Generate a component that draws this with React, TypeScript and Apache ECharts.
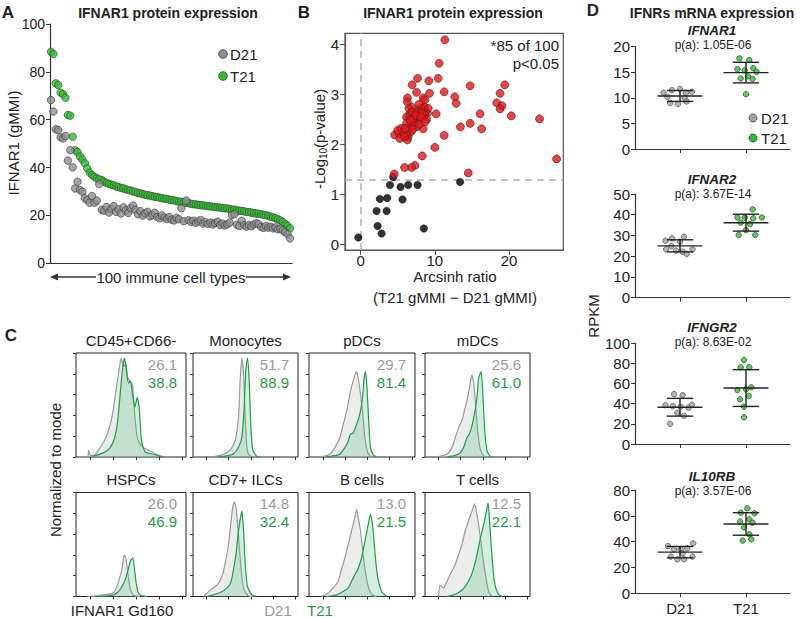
import React, { useEffect, useRef } from "react";
import * as echarts from "echarts";

const FONT = "'Liberation Sans', Arial, Helvetica, sans-serif";
const INK = "#222";
const GRAY_DOT = "#8e8e8e";
const GREEN_DOT = "#2ec12e";
const RED_DOT = "#ee1111";
const HIST_GRAY = "#9a9a9a";
const HIST_GREEN = "#1f9e45";

// ---------- Panel A: IFNAR1 protein expression, 100 immune cell types ----------
const aTitle = "IFNAR1 protein expression";
const a_T21 = [
  88.4, 87.5, 75.2, 74.5, 71.3, 70.7, 69.2, 62.0, 61.7, 52.9,
  47.2, 46.5, 44.6, 43.4, 41.8, 39.7, 37.9, 36.9, 36.2, 35.5,
  35.1, 34.8, 34.1, 33.6, 33.2, 32.8, 32.6, 32.1, 31.9, 31.5,
  31.3, 30.9, 30.6, 30.4, 30.0, 29.8, 29.4, 29.2, 28.9, 28.6,
  28.4, 28.3, 28.0, 27.8, 27.7, 27.4, 27.2, 27.0, 26.9, 26.6,
  26.4, 26.3, 26.0, 25.8, 25.7, 25.4, 25.2, 25.1, 24.9, 24.7,
  24.6, 24.4, 24.3, 24.2, 24.0, 23.9, 23.8, 23.6, 23.5, 23.4,
  23.3, 23.1, 23.0, 22.9, 22.7, 22.5, 22.4, 22.2, 22.0, 21.9,
  21.7, 21.5, 21.4, 21.2, 21.0, 20.8, 20.7, 20.5, 20.3, 20.1,
  19.8, 19.5, 19.2, 18.8, 18.4, 17.9, 17.2, 16.5, 15.6, 14.6,
];
const a_D21 = [
  68.2, 63.4, 56.0, 55.7, 52.7, 52.2, 53.2, 42.9, 47.3, 40.1,
  31.3, 34.1, 30.6, 29.9, 27.2, 26.5, 25.3, 28.1, 25.3, 26.2,
  33.1, 22.3, 22.0, 23.5, 21.2, 22.8, 23.9, 21.5, 22.6, 20.8,
  23.4, 22.1, 21.0, 23.0, 24.1, 22.3, 20.5, 21.8, 19.9, 20.9,
  21.5, 19.6, 20.2, 21.1, 19.3, 18.8, 20.0, 19.1, 18.5, 19.4,
  18.2, 17.9, 19.0, 18.4, 23.0, 17.6, 26.2, 18.0, 17.3, 17.8,
  16.9, 17.5, 18.1, 16.6, 17.2, 16.4, 17.0, 16.2, 16.8, 17.4,
  16.0, 16.6, 15.8, 16.3, 17.0, 20.2, 20.5, 16.1, 15.6, 17.8,
  15.9, 15.3, 16.0, 15.5, 16.2, 16.7, 16.4, 15.2, 14.8, 15.6,
  14.9, 15.3, 14.6, 15.0, 14.2, 14.5, 13.8, 13.0, 12.2, 10.4,
];

// ---------- Panel B: volcano-like plot ----------
const bXTicks = [0, 10, 20];
const bYTicks = [0, 1, 2, 3, 4];
const bSigThreshold = 1.301; // -log10(0.05)
const b_significant = [
  [11.35, 4.09], [10.58, 3.62], [10.45, 3.32], [7.67, 3.32], [9.19, 3.27], [6.95, 3.19],
  [11.26, 3.05], [7.53, 3.04], [9.28, 3.02], [6.32, 2.93], [8.43, 2.93], [8.65, 2.89],
  [12.69, 2.95], [12.87, 2.82], [14.75, 3.17], [19.42, 3.19], [18.79, 3.02], [18.34, 2.83],
  [19.06, 2.77], [18.79, 2.71], [20.3, 2.57], [16.1, 2.61], [24.1, 2.51], [26.4, 1.71],
  [16.3, 2.31], [14.75, 2.42], [13.45, 2.35], [10.18, 2.61], [11.26, 2.18], [10.0, 1.94],
  [8.3, 1.77], [7.31, 1.58], [6.86, 1.54], [5.92, 1.54], [4.53, 1.41], [14.5, 1.43],
  [8.43, 2.31],
  [4.6, 2.19], [5.16, 2.22], [5.43, 2.32], [5.3, 2.12], [6.4, 2.15], [6.3, 2.09],
  [6.6, 2.32], [6.86, 2.42], [6.5, 2.52], [7.13, 2.62], [7.53, 2.55], [7.98, 2.62],
  [7.98, 2.49], [8.43, 2.52], [8.74, 2.69], [8.56, 2.75], [9.0, 2.62], [7.31, 2.45],
  [6.64, 2.62], [6.86, 2.75], [6.19, 2.55], [7.76, 2.69], [8.2, 2.72], [6.19, 2.42],
  [6.77, 2.25], [7.53, 2.35], [5.7, 2.25], [6.19, 2.19], [7.08, 2.52], [9.1, 2.72],
  [8.65, 2.59], [6.5, 2.72], [5.9, 2.15], [7.2, 2.38], [7.9, 2.4], [8.9, 2.5],
  [6.0, 2.32], [5.0, 2.28], [6.95, 2.65], [7.6, 2.62], [8.3, 2.62], [7.4, 2.58],
  [6.7, 2.48], [8.1, 2.55], [7.0, 2.3], [8.7, 2.45], [6.3, 2.85], [7.85, 2.8],
];
const b_notSignificant = [
  [-0.31, 0.14], [2.15, 0.67], [2.29, 0.37], [2.83, 0.22], [2.6, 0.91], [3.59, 0.93],
  [3.5, 0.67], [3.95, 1.19], [4.39, 1.35], [5.38, 1.15], [5.65, 0.9], [6.41, 1.19],
  [7.67, 1.19], [8.52, 0.32], [13.4, 1.25],
];

// ---------- Panel C: histograms (x: IFNAR1 Gd160 display %, y: % of mode) ----------
const histTitles = ["CD45+CD66-", "Monocytes", "pDCs", "mDCs", "HSPCs", "CD7+ ILCs", "B cells", "T cells"];
const histD21Values = ["26.1", "51.7", "29.7", "25.6", "26.0", "14.8", "13.0", "12.5"];
const histT21Values = ["38.8", "88.9", "81.4", "61.0", "46.9", "32.4", "21.5", "22.1"];
const cd45_D21 = [[11, 0], [11.5, 6.5], [13, 1.6], [16, 1.6], [22, 9], [28.1, 21], [32.6, 38], [35.6, 58], [38.7, 81], [41.1, 95], [43.2, 87], [45.3, 90], [47.1, 76], [49.2, 73], [51.4, 69], [53.5, 39], [55.9, 18], [59.8, 10], [65.9, 6.5], [73.4, 2.6], [79.5, 0]];
const cd45_T21 = [[14.5, 0.6], [25, 4], [31, 9], [35, 18], [37.8, 34], [40.2, 61], [42.3, 85], [44.1, 95], [45.9, 82], [47.7, 71], [49.5, 73], [51.4, 60], [53.5, 48], [55.6, 57], [57.4, 48], [59.5, 16], [62.8, 5], [70.4, 2.6], [76.4, 0.6], [79.5, 0]];
const mono_D21 = [[16.5, 0], [26, 1.6], [35.4, 6.5], [40.2, 16], [43.4, 39], [44.9, 74], [46.5, 95], [48.1, 81], [49.7, 39], [51.3, 10], [53.5, 1.6], [57.6, 0]];
const mono_T21 = [[22.8, 0], [32.3, 1], [38.6, 3.2], [43.4, 9.7], [46.5, 19], [48.7, 48], [50.3, 84], [51.9, 95], [53.5, 74], [55.1, 29], [57, 6.5], [60.8, 0.6], [63.9, 0]];
const pdc_D21 = [[11.7, 0], [19.6, 2.6], [24.3, 9], [29, 18.5], [32.2, 31], [34.7, 41], [36.9, 51], [39.1, 63], [41.6, 73], [44.8, 82], [46.4, 76], [47.9, 66], [50.5, 44], [52.7, 18.5], [54.9, 6], [57.4, 1], [60.6, 0]];
const pdc_T21 = [[14.8, 0], [22.7, 1], [29, 2.6], [33.8, 9], [36.9, 15], [39.1, 22], [41.6, 23], [44.8, 31], [47.9, 41], [50.5, 57], [51.7, 73], [53.3, 82], [54.9, 63], [56.5, 31], [58, 9], [60.6, 2], [63.7, 0]];
const mdc_D21 = [[11.2, 0], [20.8, 2.6], [25.6, 9], [28.8, 18.5], [31.9, 28], [35.1, 35], [37.4, 44], [39.9, 54], [42.2, 66], [44.7, 79], [46.3, 73], [47.9, 54], [50.2, 25], [52.7, 7.3], [55.9, 1], [59.1, 0]];
const mdc_T21 = [[20.8, 0], [28.8, 1.6], [33.5, 4], [36.7, 9], [39.9, 18.5], [42.2, 22], [44.7, 30], [47, 41], [49.5, 57], [51.1, 76], [53.4, 82], [54.95, 63], [56.9, 25], [59.1, 6], [62.3, 0.3], [65.5, 0]];
const hspc_D21 = [[10, 0], [19, 0.6], [25.1, 1.6], [31.1, 2.6], [34.1, 3.8], [37.2, 9.6], [39.6, 17.6], [41.7, 25.6], [43.8, 40], [45.3, 37], [46.8, 25.6], [48.6, 11], [50.8, 3.2], [53.8, 0.6], [58.3, 0]];
const hspc_T21 = [[19, 0], [28.1, 0.6], [34.1, 1.6], [38.7, 4.8], [41.7, 9.6], [44.7, 16], [47.7, 27], [49.8, 35], [51.7, 37], [52.9, 29], [54.7, 13], [56.8, 3.2], [59.8, 0.6], [64.4, 0]];
const ilc_D21 = [[10.1, 0], [13.3, 3.2], [16.5, 6.4], [22.8, 11], [27.5, 19], [30.7, 32], [33.9, 51], [36.1, 71], [38, 87], [39.2, 91], [40.8, 87], [42.4, 71], [44.3, 45], [46.5, 19], [48.7, 6.4], [52.8, 0.6], [57.6, 0]];
const ilc_T21 = [[13.3, 0], [19.6, 1.6], [25.9, 3.8], [32.3, 8], [36.1, 14], [38.6, 26], [41.1, 42], [43.4, 64], [44.9, 74], [46.5, 82], [48.1, 64], [49.7, 32], [51.9, 9.6], [56, 1.6], [60.8, 0]];
const bcell_D21 = [[11.7, 0], [18, 3.2], [22.7, 8], [27.4, 14.5], [30.6, 26], [33.8, 37], [36.9, 50], [40.1, 63], [43.2, 76], [44.8, 84], [46.4, 76], [48.6, 63], [51.1, 40], [53.6, 21], [56.8, 6.5], [60.6, 1], [63.7, 0]];
const bcell_T21 = [[16.4, 0], [25.9, 1.6], [32.2, 4.8], [36.9, 8], [40.1, 14.5], [43.2, 21], [46.4, 27], [49.5, 37], [52.7, 53], [55.8, 69], [58, 79], [59.9, 69], [62.1, 44], [64.4, 21], [68.5, 4.8], [73.2, 0]];
const tcell_D21 = [[12.8, 0], [14.4, 11], [17.6, 8], [20.8, 14.5], [24, 21], [28.8, 31], [31.9, 40], [35.1, 50], [38.3, 63], [41.5, 73], [44.7, 82], [47.3, 89], [48.9, 82], [51.1, 69], [54.3, 44], [57.5, 21], [60.7, 4.8], [63.9, 0]];
const tcell_T21 = [[20.8, 0], [27.2, 1.6], [33.5, 4.8], [38.3, 9.7], [43.1, 18], [46.3, 27], [49.5, 40], [52.7, 56], [55.9, 69], [58.5, 82], [60.1, 90], [61.7, 69], [63.9, 37], [66.1, 14.5], [69.3, 3.2], [73.5, 0]];
const histD21Curves = [cd45_D21, mono_D21, pdc_D21, mdc_D21, hspc_D21, ilc_D21, bcell_D21, tcell_D21];
const histT21Curves = [cd45_T21, mono_T21, pdc_T21, mdc_T21, hspc_T21, ilc_T21, bcell_T21, tcell_T21];
const histXTicks = [13, 34, 55, 76, 97];

// ---------- Panel D: mRNA dot plots ----------
const dGroups = ["D21", "T21"];
const dGenes = ["IFNAR1", "IFNAR2", "IFNGR2", "IL10RB"];
const dPValues = ["p(a): 1.05E-06", "p(a): 3.67E-14", "p(a): 8.63E-02", "p(a): 3.57E-06"];
const dYMax = [20, 50, 100, 80];
const dYInterval = [5, 10, 20, 20];
const ifnar1_D21 = [11.0, 11.5, 11.7, 11.0, 11.2, 10.2, 10.0, 9.0, 8.8, 9.3];
const ifnar1_T21 = [17.7, 17.4, 15.6, 15.4, 15.8, 15.1, 13.8, 13.7, 14.2, 10.7];
const ifnar2_D21 = [28.6, 29.4, 27.5, 27.0, 24.9, 23.3, 22.7, 22.2, 23.3, 21.1];
const ifnar2_T21 = [42.6, 38.7, 38.7, 38.3, 38.7, 36.2, 35.5, 32.6, 30.2, 30.2];
const ifngr2_D21 = [49.5, 48.5, 38.5, 37.5, 37.0, 36.0, 39.0, 31.0, 28.0, 20.0];
const ifngr2_T21 = [83.4, 76.2, 76.2, 56.3, 54.3, 53.6, 47.7, 44.4, 37.1, 26.5];
const il10rb_D21 = [36.6, 38.7, 34.1, 34.1, 34.8, 28.4, 26.3, 26.3, 31.0, 28.4];
const il10rb_T21 = [65.8, 62.4, 61.9, 55.5, 57.3, 54.7, 51.1, 45.7, 40.8, 41.8];
const dD21 = [ifnar1_D21, ifnar2_D21, ifngr2_D21, il10rb_D21];
const dT21 = [ifnar1_T21, ifnar2_T21, ifngr2_T21, il10rb_T21];
// horizontal jitter of the dots (layout only)
const jitterD21 = [
  [-0.25, -0.12, 0, 0.09, 0.18, -0.19, 0.07, -0.15, -0.03, 0.1],
  [-0.12, 0.06, -0.22, 0.0, -0.13, -0.21, -0.06, 0.04, 0.19, 0.1],
  [-0.09, 0.04, -0.22, -0.11, 0.01, 0.13, 0.18, -0.04, 0.06, -0.15],
  [-0.18, 0.2, -0.09, 0.01, 0.11, -0.14, -0.04, 0.06, 0.04, 0.19],
];
const jitterT21 = [
  [-0.1, 0.05, -0.13, -0.02, 0.11, 0.16, -0.08, 0.1, 0.03, 0],
  [0.1, -0.13, -0.02, 0.11, 0.24, -0.08, 0.06, 0, -0.11, 0.14],
  [-0.03, 0.05, -0.08, 0.08, 0, -0.13, 0.04, -0.09, -0.03, -0.03],
  [0.02, -0.08, 0.13, -0.09, 0.05, 0.1, -0.03, 0.05, -0.05, 0.08],
];

// ---------- layout ----------
const histLefts = [76, 193, 309, 425];
const histWidths = [110, 105, 106, 105];
const histTops = [353, 492.5];
const histHeight = 104;
const dTops = [46.7, 194, 343.3, 490];
const dHeights = [102.3, 103.7, 100.7, 103.3];

function meanSd(v: number[]) {
  const m = v.reduce((a, b) => a + b, 0) / v.length;
  const s = Math.sqrt(v.reduce((a, b) => a + (b - m) * (b - m), 0) / (v.length - 1));
  return [m, s];
}

function txt(x: number, y: number, text: string, extra: any = {}, styleExtra: any = {}) {
  return {
    type: "text",
    x,
    y,
    silent: true,
    ...extra,
    style: {
      text,
      fontFamily: FONT,
      fontSize: 15,
      fill: INK,
      textAlign: "center",
      textVerticalAlign: "middle",
      ...styleExtra,
    },
  };
}

function buildOption() {
  const grids: any[] = [];
  const xAxes: any[] = [];
  const yAxes: any[] = [];
  const series: any[] = [];
  const graphics: any[] = [];
  const axisLbl = { color: INK, fontSize: 14, fontFamily: FONT };

  // ---- Panel A ----
  grids.push({ left: 50, top: 24, width: 242, height: 239.3, outerBoundsMode: "none", containLabel: false });
  xAxes.push({
    gridIndex: 0, type: "value", min: 0.59, max: 100.83,
    axisLine: { show: true, onZero: false, lineStyle: { color: "#333", width: 1.2 } },
    axisTick: { show: false }, axisLabel: { show: false }, splitLine: { show: false },
  });
  yAxes.push({
    gridIndex: 0, type: "value", min: 0, max: 100, interval: 20,
    axisLine: { show: true, onZero: false, lineStyle: { color: "#333", width: 1.2 } },
    axisTick: { show: true, length: 4, lineStyle: { color: "#333" } },
    axisLabel: { ...axisLbl, margin: 5 }, splitLine: { show: false },
  });
  series.push({
    type: "scatter", xAxisIndex: 0, yAxisIndex: 0, symbolSize: 7.5, z: 3,
    itemStyle: { color: GREEN_DOT, borderColor: "#3a3a3a", borderWidth: 0.8 },
    data: a_T21.map((v, i) => [i + 1, v]),
  });
  series.push({
    type: "scatter", xAxisIndex: 0, yAxisIndex: 0, symbolSize: 7.5, z: 4,
    itemStyle: { color: GRAY_DOT, borderColor: "#3a3a3a", borderWidth: 0.8 },
    data: a_D21.map((v, i) => [i + 1, v]),
  });

  // ---- Panel B ----
  grids.push({ left: 345, top: 33.3, width: 218.3, height: 216.7, show: true, borderColor: "#555", borderWidth: 1.2, backgroundColor: "transparent", outerBoundsMode: "none", containLabel: false });
  xAxes.push({
    gridIndex: 1, type: "value", min: -2.1, max: 27.3,
    axisLine: { show: true, onZero: false, lineStyle: { color: "#555", width: 1.2 } },
    axisTick: { show: true, length: 5, customValues: bXTicks, lineStyle: { color: "#555" } },
    axisLabel: { ...axisLbl, fontSize: 15, margin: 3, customValues: bXTicks },
    splitLine: { show: false },
  });
  yAxes.push({
    gridIndex: 1, type: "value", min: -0.11, max: 4.22,
    axisLine: { show: true, onZero: false, lineStyle: { color: "#555", width: 1.2 } },
    axisTick: { show: true, length: 5, customValues: bYTicks, lineStyle: { color: "#555" } },
    axisLabel: { ...axisLbl, fontSize: 15, margin: 6, customValues: bYTicks },
    splitLine: { show: false },
  });
  series.push({
    type: "scatter", xAxisIndex: 1, yAxisIndex: 1, symbolSize: 7.5, z: 3,
    itemStyle: { color: "#000", borderColor: "#000", borderWidth: 0.5 },
    data: b_notSignificant,
    markLine: {
      silent: true, symbol: "none", label: { show: false }, z: 2,
      lineStyle: { type: [7, 5], color: "#b0b0b0", width: 1.5 },
      data: [{ xAxis: 0 }, { yAxis: bSigThreshold }],
    },
  });
  series.push({
    type: "scatter", xAxisIndex: 1, yAxisIndex: 1, symbolSize: 8, z: 4,
    itemStyle: { color: RED_DOT, borderColor: "#333", borderWidth: 0.8 },
    data: b_significant,
  });

  // ---- Panel C ----
  for (let k = 0; k < 8; k++) {
    const row = k < 4 ? 0 : 1;
    const col = k % 4;
    const gi = grids.length;
    grids.push({
      left: histLefts[col], top: histTops[row], width: histWidths[col], height: histHeight,
      show: true, borderColor: "#222", borderWidth: 1, backgroundColor: "transparent",
      outerBoundsMode: "none", containLabel: false,
    });
    xAxes.push({
      gridIndex: gi, type: "value", min: 0, max: 100,
      axisLine: { show: false, onZero: false },
      axisTick: { show: true, length: 3, customValues: histXTicks, lineStyle: { color: "#333" } },
      axisLabel: { show: false }, splitLine: { show: false },
    });
    yAxes.push({
      gridIndex: gi, type: "value", min: 0, max: 100, interval: 20,
      axisLine: { show: false, onZero: false },
      axisTick: { show: true, length: 3, lineStyle: { color: "#333" } },
      axisLabel: { show: false }, splitLine: { show: false },
    });
    series.push({
      type: "line", xAxisIndex: gi, yAxisIndex: gi, data: histD21Curves[k], smooth: 0.2,
      showSymbol: false, symbol: "none", z: 2,
      lineStyle: { color: HIST_GRAY, width: 1.2 },
      areaStyle: { color: "rgba(190,190,190,0.42)" },
    });
    series.push({
      type: "line", xAxisIndex: gi, yAxisIndex: gi, data: histT21Curves[k], smooth: 0.2,
      showSymbol: false, symbol: "none", z: 3,
      lineStyle: { color: HIST_GREEN, width: 1.2 },
      areaStyle: { color: "rgba(60,185,105,0.32)" },
    });
    const left = histLefts[col];
    const right = left + histWidths[col];
    const top = histTops[row];
    graphics.push(txt(left + histWidths[col] / 2, top - 13, histTitles[k]));
    graphics.push(txt(right - 9, top + 11, histD21Values[k], {}, { textAlign: "right", fill: "#9a9a9a" }));
    graphics.push(txt(right - 9, top + 29, histT21Values[k], {}, { textAlign: "right", fill: HIST_GREEN }));
  }

  // ---- Panel D ----
  for (let g = 0; g < 4; g++) {
    const gi = grids.length;
    grids.push({ left: 635, top: dTops[g], width: 155, height: dHeights[g], outerBoundsMode: "none", containLabel: false });
    xAxes.push({
      gridIndex: gi, type: "value", min: -0.682, max: 1.667,
      axisLine: { show: true, onZero: false, lineStyle: { color: "#333", width: 1.2 } },
      axisTick: { show: true, length: 4, customValues: [0, 1], lineStyle: { color: "#333" } },
      axisLabel: {
        show: g === 3, ...axisLbl, fontSize: 15, margin: 8, customValues: [0, 1],
        formatter: (v: number) => dGroups[Math.round(v)] ?? "",
      },
      splitLine: { show: false },
    });
    yAxes.push({
      gridIndex: gi, type: "value", min: 0, max: dYMax[g], interval: dYInterval[g],
      axisLine: { show: true, onZero: false, lineStyle: { color: "#333", width: 1.2 } },
      axisTick: { show: true, length: 4, lineStyle: { color: "#333" } },
      axisLabel: { ...axisLbl, fontSize: 15, margin: 5 },
      splitLine: { show: false },
    });
    series.push({
      type: "scatter", xAxisIndex: gi, yAxisIndex: gi, symbolSize: 5.5, z: 3,
      itemStyle: { color: "#a0a0a0", borderColor: "#444", borderWidth: 0.8 },
      data: dD21[g].map((v, i) => [0 + jitterD21[g][i], v]),
    });
    series.push({
      type: "scatter", xAxisIndex: gi, yAxisIndex: gi, symbolSize: 5.5, z: 3,
      itemStyle: { color: GREEN_DOT, borderColor: "#333", borderWidth: 0.8 },
      data: dT21[g].map((v, i) => [1 + jitterT21[g][i], v]),
    });
    const s1 = meanSd(dD21[g]);
    const s2 = meanSd(dT21[g]);
    series.push({
      type: "custom", xAxisIndex: gi, yAxisIndex: gi, z: 4, silent: true,
      encode: { x: 0, y: 1 },
      data: [[0, s1[0], s1[1]], [1, s2[0], s2[1]]],
      renderItem: (params: any, api: any) => {
        const x = api.value(0), m = api.value(1), s = api.value(2);
        const L = (a: number, b: number, c: number, d: number) => {
          const p1 = api.coord([a, b]);
          const p2 = api.coord([c, d]);
          return { type: "line", shape: { x1: p1[0], y1: p1[1], x2: p2[0], y2: p2[1] }, style: { stroke: "#222", lineWidth: 1.4 } };
        };
        return {
          type: "group",
          children: [
            L(x - 0.34, m, x + 0.34, m),
            L(x, m - s, x, m + s),
            L(x - 0.2, m + s, x + 0.2, m + s),
            L(x - 0.2, m - s, x + 0.2, m - s),
          ],
        };
      },
    });
    const titleY = [31, 180, 328.5, 477][g];
    graphics.push(txt(712, titleY - 1, dGenes[g], {}, { fontWeight: "bold", fontStyle: "italic", fontSize: 13.5 }));
    graphics.push(txt(713, titleY + 13.5, dPValues[g], {}, { fontSize: 12 }));
  }

  // ---- Text / decorations ----
  const bold = { fontWeight: "bold" };
  graphics.push(txt(8, 12, "A", {}, { ...bold, fontSize: 17 }));
  graphics.push(txt(304, 12, "B", {}, { ...bold, fontSize: 17 }));
  graphics.push(txt(11, 335, "C", {}, { ...bold, fontSize: 17 }));
  graphics.push(txt(593, 10, "D", {}, { ...bold, fontSize: 17 }));
  graphics.push(txt(168, 13, aTitle, {}, { ...bold, fontSize: 14 }));
  graphics.push(txt(453, 13, "IFNAR1 protein expression", {}, { ...bold, fontSize: 14 }));
  graphics.push(txt(712, 12.5, "IFNRs mRNA expression", {}, { ...bold, fontSize: 14 }));

  // A labels
  graphics.push(txt(13, 143, "IFNAR1 (gMMI)", { rotation: Math.PI / 2 }));
  graphics.push(txt(171, 277, "100 immune cell types"));
  graphics.push({ type: "line", silent: true, shape: { x1: 56, y1: 277, x2: 96, y2: 277 }, style: { stroke: "#333", lineWidth: 1.3 } });
  graphics.push({ type: "polygon", silent: true, shape: { points: [[50, 277], [58, 273.5], [58, 280.5]] }, style: { fill: "#333" } });
  graphics.push({ type: "line", silent: true, shape: { x1: 246, y1: 277, x2: 285, y2: 277 }, style: { stroke: "#333", lineWidth: 1.3 } });
  graphics.push({ type: "polygon", silent: true, shape: { points: [[291, 277], [283, 273.5], [283, 280.5]] }, style: { fill: "#333" } });
  // A legend
  graphics.push({ type: "circle", silent: true, shape: { cx: 223, cy: 54, r: 4.3 }, style: { fill: GRAY_DOT, stroke: "#3a3a3a", lineWidth: 0.8 } });
  graphics.push(txt(230, 54.5, "D21", {}, { textAlign: "left" }));
  graphics.push({ type: "circle", silent: true, shape: { cx: 223, cy: 76, r: 4.3 }, style: { fill: GREEN_DOT, stroke: "#3a3a3a", lineWidth: 0.8 } });
  graphics.push(txt(230, 76.5, "T21", {}, { textAlign: "left" }));

  // B labels
  graphics.push({
    type: "group", x: 319, y: 139, rotation: Math.PI / 2, silent: true,
    children: [
      txt(-50, 0, "-Log", {}, { textAlign: "left" }),
      txt(-20, 4, "10", {}, { textAlign: "left", fontSize: 10 }),
      txt(-9, 0, "(p-value)", {}, { textAlign: "left" }),
    ],
  });
  graphics.push(txt(455, 276, "Arcsinh ratio"));
  graphics.push(txt(455, 297, "(T21 gMMI \u2212 D21 gMMI)"));
  graphics.push(txt(559, 45, "*85 of 100", {}, { textAlign: "right" }));
  graphics.push(txt(559, 63, "p<0.05", {}, { textAlign: "right" }));

  // C labels
  graphics.push(txt(55, 470, "Normalized to mode", { rotation: Math.PI / 2 }));
  graphics.push(txt(122, 610, "IFNAR1 Gd160"));
  graphics.push(txt(278, 610, "D21", {}, { fill: "#9a9a9a" }));
  graphics.push(txt(320, 610, "T21", {}, { fill: HIST_GREEN }));

  // D labels
  graphics.push(txt(593, 316, "RPKM", { rotation: Math.PI / 2 }));
  graphics.push({ type: "circle", silent: true, shape: { cx: 753, cy: 118, r: 4 }, style: { fill: "#a0a0a0", stroke: "#444", lineWidth: 0.8 } });
  graphics.push(txt(761, 118.5, "D21", {}, { textAlign: "left" }));
  graphics.push({ type: "circle", silent: true, shape: { cx: 753, cy: 138, r: 4 }, style: { fill: GREEN_DOT, stroke: "#333", lineWidth: 0.8 } });
  graphics.push(txt(761, 138.5, "T21", {}, { textAlign: "left" }));

  return {
    animation: false,
    backgroundColor: "#fff",
    textStyle: { fontFamily: FONT },
    grid: grids,
    xAxis: xAxes,
    yAxis: yAxes,
    series,
    graphic: { elements: graphics },
  };
}

export default function App() {
  const ref = useRef<HTMLDivElement>(null);
  useEffect(() => {
    if (!ref.current) return;
    const chart = echarts.init(ref.current, undefined, { renderer: "svg" });
    chart.setOption(buildOption() as any);
    return () => chart.dispose();
  }, []);
  return (
    <div
      ref={ref}
      style={{ position: "fixed", left: 0, top: 0, width: 800, height: 618, background: "#fff" }}
    />
  );
}
